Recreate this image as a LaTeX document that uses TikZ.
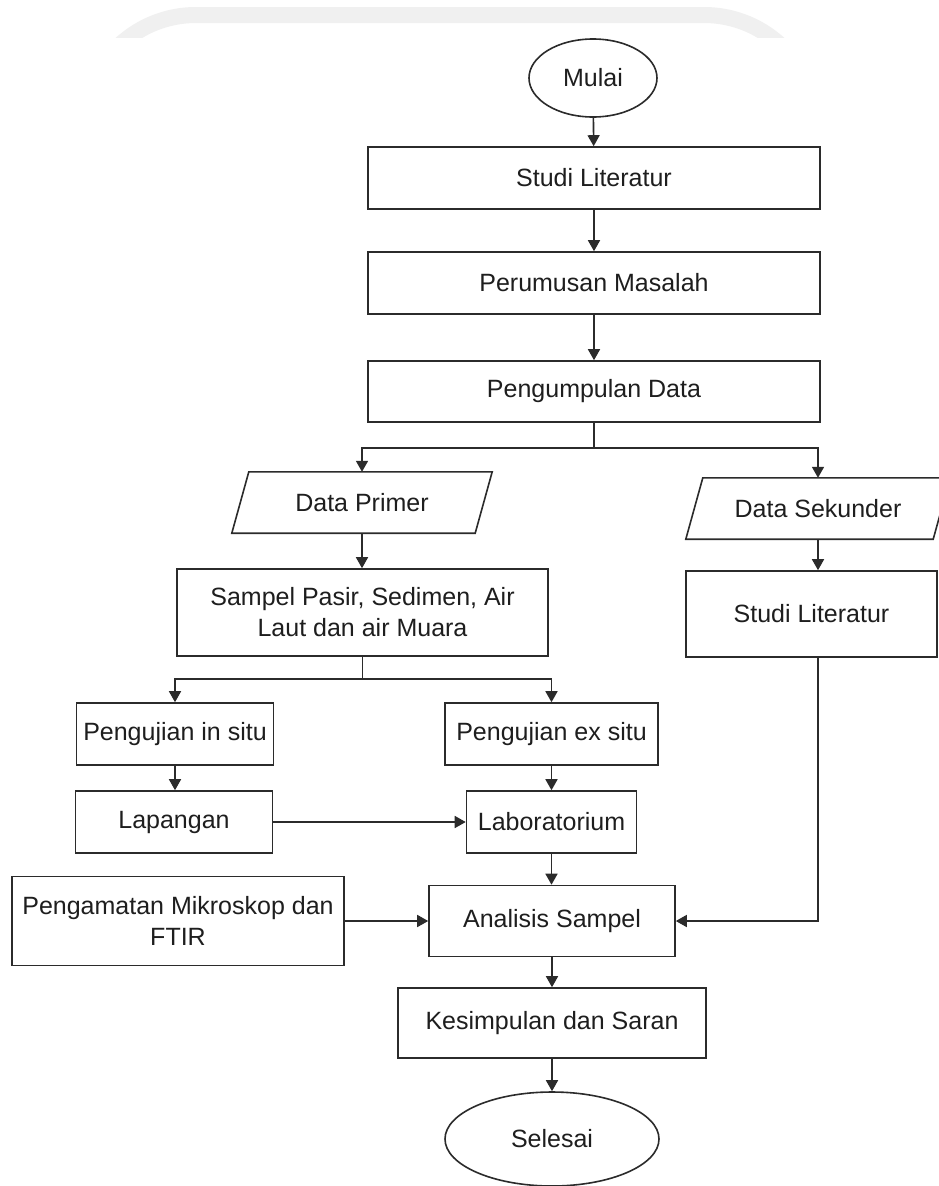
\documentclass[tikz,border=0pt]{standalone}
\usepackage{fontspec}
\setmainfont{Liberation Sans}
\usetikzlibrary{shapes.geometric,arrows.meta,calc}
\definecolor{ln}{HTML}{2B2B2B}
\definecolor{tx}{HTML}{1E1E1E}
\definecolor{band}{HTML}{F0F0F0}
\begin{document}
\begin{tikzpicture}[x=1pt,y=-1pt,
  every node/.style={font=\fontsize{25}{31}\selectfont, text=tx, align=center, inner sep=0pt},
  procbox/.style={draw=ln, line width=1.6pt, rectangle},
  termbox/.style={draw=ln, line width=1.6pt, ellipse},
  iobox/.style={rectangle},
  arr/.style={draw=ln, line width=1.6pt, -{Triangle[length=11pt,width=12pt]}},
  ln/.style={draw=ln, line width=1.6pt}]
\useasboundingbox (0,0) rectangle (938,1186);
\fill[white] (0,0) rectangle (938,1186);
% faint watermark band at the top
\begin{scope}
  \clip (0,0) rectangle (938,37);
  \fill[band, even odd rule, rounded corners=120pt] (76,7) rectangle (824,300)
     [rounded corners=104pt] (92,23) rectangle (808,290);
\end{scope}

\node[termbox, minimum width=128pt, minimum height=78pt] (mulai) at (593,78) {Mulai};
\node[procbox, minimum width=452pt, minimum height=62pt] (s1) at (594,178) {Studi Literatur};
\node[procbox, minimum width=452pt, minimum height=62pt] (s2) at (594,283) {Perumusan Masalah};
\node[procbox, minimum width=452pt, minimum height=61pt] (s3) at (594,391.5) {Pengumpulan Data};

\node[iobox, minimum width=260pt, minimum height=61pt] (dp) at (362,502.5) {Data Primer};
\draw[ln] (dp.south west) -- ([xshift=17pt]dp.north west) -- (dp.north east) -- ([xshift=-17pt]dp.south east) -- cycle;
\node[iobox, minimum width=264pt, minimum height=61pt] (ds) at (818,508.5) {Data Sekunder};
\draw[ln] (ds.south west) -- ([xshift=17pt]ds.north west) -- (ds.north east) -- ([xshift=-17pt]ds.south east) -- cycle;

\node[procbox, minimum width=371pt, minimum height=87pt] (sp) at (362.5,612.5) {Sampel Pasir, Sedimen, Air\\Laut dan air Muara};
\node[procbox, minimum width=251pt, minimum height=86pt] (sl) at (811.5,614) {Studi Literatur};

\node[procbox, minimum width=197pt, minimum height=62pt] (pi) at (175,734) {Pengujian in situ};
\node[procbox, minimum width=213pt, minimum height=62pt] (pe) at (551.5,734) {Pengujian ex situ};
\node[procbox, minimum width=197pt, minimum height=62pt] (lap) at (174,822) {Lapangan};
\node[procbox, minimum width=170pt, minimum height=62pt] (lab) at (551.5,822) {Laboratorium};

\node[procbox, minimum width=332pt, minimum height=89pt] (pm) at (178,921) {Pengamatan Mikroskop dan\\FTIR};
\node[procbox, minimum width=246pt, minimum height=71pt] (an) at (552,921) {Analisis Sampel};
\node[procbox, minimum width=308pt, minimum height=70pt] (ks) at (552,1023) {Kesimpulan dan Saran};
\node[termbox, minimum width=214pt, minimum height=94pt] (sel) at (552,1139) {Selesai};

\coordinate (j1) at ($(s3.south)+(0,25)$);
\coordinate (j2) at ($(sp.south)+(0,22)$);

\draw[arr] (mulai) -- (s1);
\draw[arr] (s1) -- (s2);
\draw[arr] (s2) -- (s3);
\draw[ln] (s3.south) -- (j1);
\draw[arr] (j1) -| (dp.north);
\draw[arr] (j1) -| (ds.north);
\draw[arr] (dp.south) -- (sp.north -| dp.south);
\draw[arr] (ds.south) -- (ds.south |- sl.north);
\draw[ln] (sp.south) -- (j2);
\draw[arr] (j2) -| (pi.north);
\draw[arr] (j2) -| (pe.north);
\draw[arr] (pi.south) -- (pi.south |- lap.north);
\draw[arr] (pe.south) -- (pe.south |- lab.north);
\draw[arr] (lap.east) -- (lab.west);
\draw[arr] (lab.south) -- (lab.south |- an.north);
\draw[arr] (pm.east) -- (an.west);
\draw[arr] (ds.south |- sl.south) |- (an.east);
\draw[arr] (an) -- (ks);
\draw[arr] (ks) -- (sel);
\end{tikzpicture}
\end{document}
